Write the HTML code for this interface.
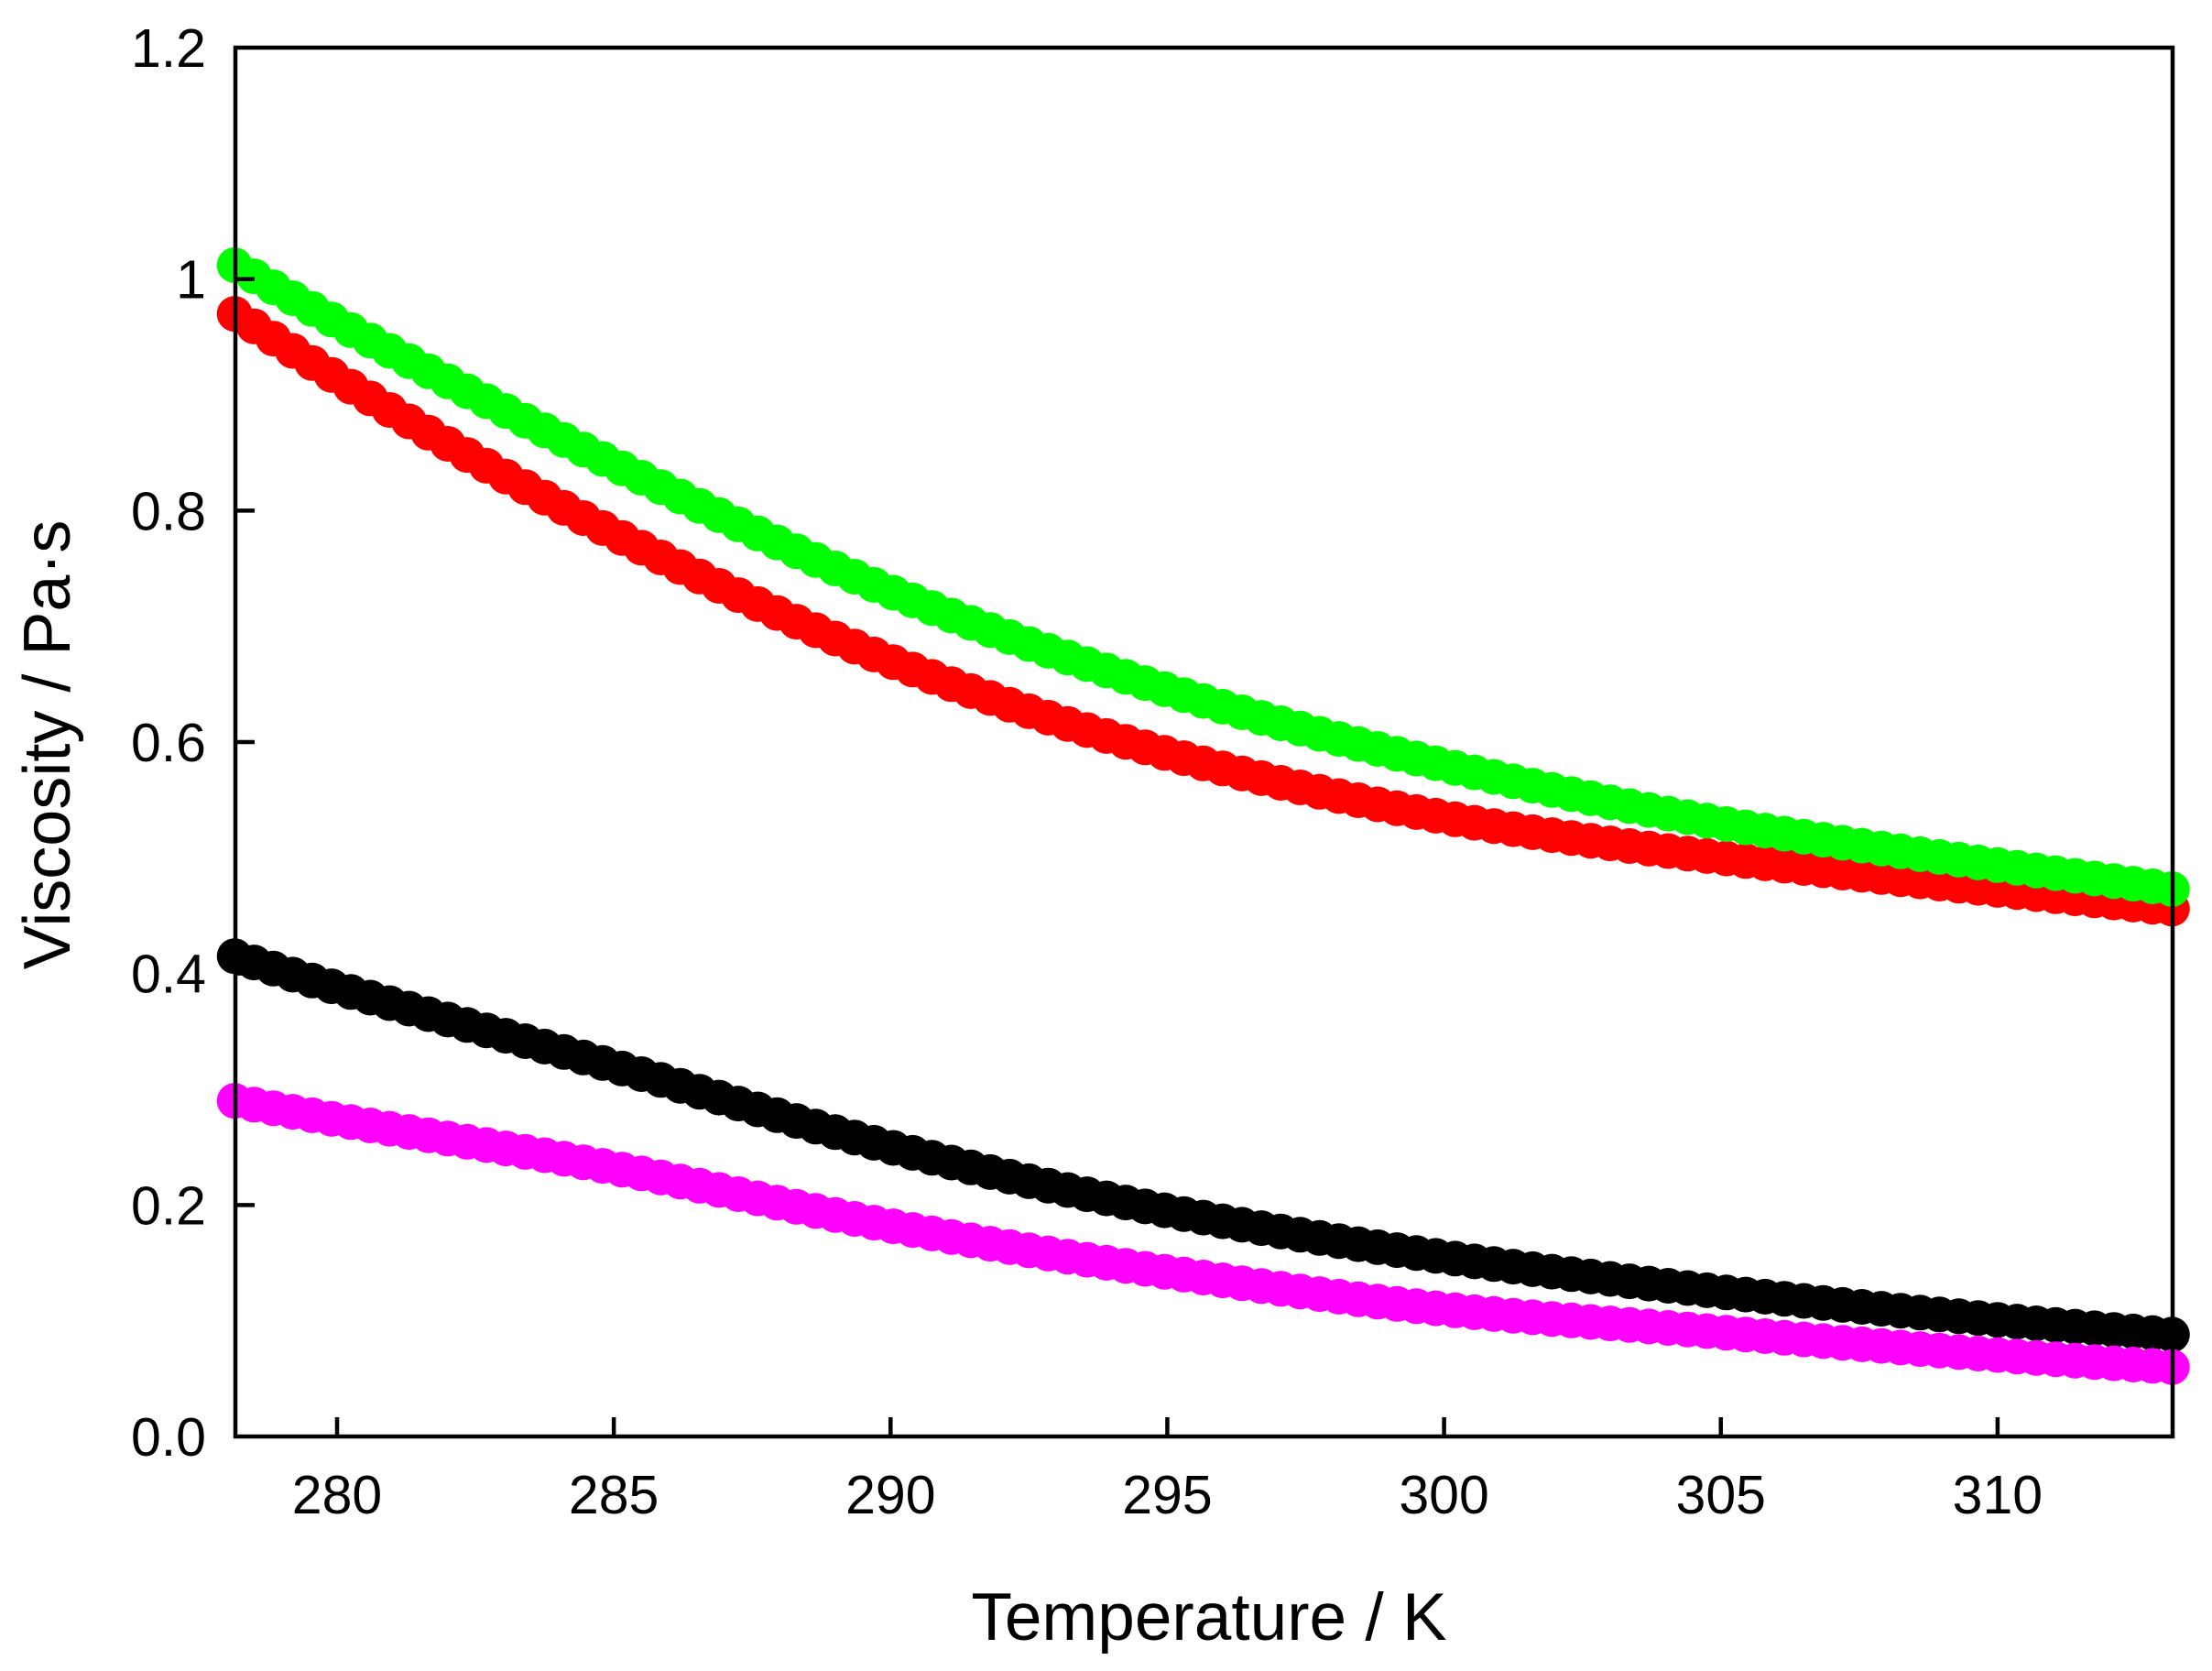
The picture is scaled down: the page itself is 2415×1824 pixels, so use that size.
<!DOCTYPE html>
<html><head><meta charset="utf-8"><style>body{margin:0;background:#fff}svg{display:block}text{font-family:"Liberation Sans",sans-serif;fill:#000}</style></head>
<body>
<svg id="s" width="2415" height="1824" viewBox="0 0 2415 1824" xmlns="http://www.w3.org/2000/svg">
<rect width="2415" height="1824" fill="#fff"/>
<g id="data"></g>
<rect x="257" y="52" width="2115" height="1516" fill="none" stroke="#000" stroke-width="4.5"/>
<g stroke="#000" stroke-width="4.5" id="ticks"></g>
<g font-size="59" text-anchor="end" id="yl"></g>
<g font-size="59" text-anchor="middle" id="xl"></g>
<text x="1320" y="1790" font-size="73" text-anchor="middle">Temperature / K</text>
<text transform="translate(76,813) rotate(-90)" font-size="72" text-anchor="middle">Viscosity / Pa·s</text>
</svg>
<script>
var NS="http://www.w3.org/2000/svg";
function X(t){return 368+(t-280)*60.43;}
function Y(v){return 1568-v*1263.3;}
var tk=document.getElementById('ticks'),yl=document.getElementById('yl'),xl=document.getElementById('xl');
function el(p,n,a,t){var e=document.createElementNS(NS,n);for(var k in a)e.setAttribute(k,a[k]);if(t)e.textContent=t;p.appendChild(e);return e;}
[280,285,290,295,300,305,310].forEach(function(t){var x=X(t);el(tk,'line',{x1:x,x2:x,y1:1568,y2:1547});el(xl,'text',{x:x,y:1652},String(t));});
['0.0','0.2','0.4','0.6','0.8','1','1.2'].forEach(function(s,i){var y=Y(i*0.2);if(i>0&&i<6)el(tk,'line',{x1:257,x2:278,y1:y,y2:y});el(yl,'text',{x:225,y:y+21},s);});
var T=[278.15,285,290,295,300,305,313.15];
var S=[
 ['#ff0000',[0.97,0.78,0.67,0.59,0.535,0.50,0.456]],
 ['#00ff00',[1.012,0.84,0.73,0.645,0.58,0.53,0.473]],
 ['#000000',[0.415,0.32,0.25,0.195,0.155,0.125,0.088]],
 ['#ff00ff',[0.29,0.232,0.182,0.142,0.11,0.09,0.06]]];
function interp(t,v){var i=0;while(i<T.length-2&&t>T[i+1])i++;
 var l=v.map(Math.log);var p0=l[Math.max(i-1,0)],p1=l[i],p2=l[i+1],p3=l[Math.min(i+2,l.length-1)];
 var h=T[i+1]-T[i],u=(t-T[i])/h;
 var m1=(p2-(i>0?p0:p1))/((i>0?T[i+1]-T[i-1]:h)),m2=((i+2<l.length?p3:p2)-p1)/((i+2<l.length?T[i+2]-T[i]:h));
 m1*=h;m2*=h;var u2=u*u,u3=u2*u;
 return Math.exp((2*u3-3*u2+1)*p1+(u3-2*u2+u)*m1+(-2*u3+3*u2)*p2+(u3-u2)*m2);}
var g=document.getElementById('data');
S.forEach(function(s){for(var k=0;k<=100;k++){var t=278.15+k*0.35;el(g,'circle',{cx:X(t).toFixed(1),cy:Y(interp(t,s[1])).toFixed(1),r:19.5,fill:s[0]});}});
</script>
</body></html>
